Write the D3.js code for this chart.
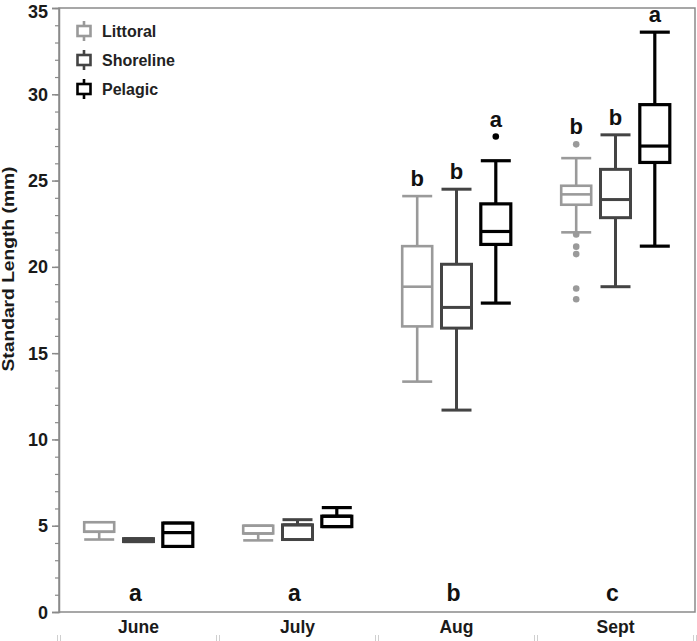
<!DOCTYPE html>
<html>
<head>
<meta charset="utf-8">
<script src="https://cdn.jsdelivr.net/npm/d3@7"></script>
<style>
  html, body { margin: 0; padding: 0; background: #fff; }
  svg { display: block; }
  text { font-family: "Liberation Sans", Arial, Helvetica, sans-serif; }
</style>
</head>
<body>
<div id="chart"></div>
<script>
// ---------------- data ----------------
const months = ["June", "July", "Aug", "Sept"];
const habitats = ["Littoral", "Shoreline", "Pelagic"];
const habitatColors = ["#9a9a9a", "#444444", "#000000"];

// [min, q1, median, q3, max] per month
const littoralStats = [
  [4.2, 4.65, 4.65, 5.2, 5.2],
  [4.15, 4.55, 4.55, 5.0, 5.0],
  [13.35, 16.55, 18.85, 21.2, 24.1],
  [22.0, 23.6, 24.2, 24.7, 26.3]
];
const shorelineStats = [
  [4.08, 4.08, 4.15, 4.25, 4.25],
  [4.2, 4.2, 5.05, 5.05, 5.35],
  [11.7, 16.45, 17.65, 20.15, 24.5],
  [18.85, 22.85, 23.9, 25.65, 27.65]
];
const pelagicStats = [
  [3.8, 3.8, 4.6, 5.15, 5.15],
  [4.95, 4.95, 5.55, 5.55, 6.05],
  [17.9, 21.3, 22.05, 23.65, 26.15],
  [21.2, 26.05, 27.0, 29.4, 33.6]
];
const littoralOutliers = [[], [], [], [27.1, 21.88, 21.17, 20.74, 18.75, 18.12]];
const shorelineOutliers = [[], [], [], []];
const pelagicOutliers = [[], [], [27.55], []];

const monthLetters = ["a", "a", "b", "c"];
const habitatLetters = [
  [null, null, null],
  [null, null, null],
  ["b", "b", "a"],
  ["b", "b", "a"]
];

const yTicksMajor = [0, 5, 10, 15, 20, 25, 30, 35];
const yLabel = "Standard Length (mm)";

// ---------------- layout ----------------
const W = 697, H = 641;
const plot = { left: 59, right: 695, top: 8, bottom: 612 };

const svg = d3.select("#chart").append("svg")
  .attr("width", W).attr("height", H);

const x = d3.scaleBand().domain(months).range([plot.left, plot.right]);
const xOff = d3.scalePoint().domain(habitats).range([-39.3, 39.3]);
const y = d3.scaleLinear().domain([0, 35]).range([plot.bottom, plot.top]);

const boxW = 30;

// frame
svg.append("rect")
  .attr("x", plot.left).attr("y", plot.top)
  .attr("width", plot.right - plot.left).attr("height", plot.bottom - plot.top)
  .attr("fill", "none").attr("stroke", "#8a8a8a").attr("stroke-width", 1.5);

// y axis with minor ticks
const yAxisMinor = d3.axisLeft(y).tickValues(d3.range(0, 36, 1)).tickSize(4).tickFormat("");
const gMinor = svg.append("g").attr("transform", `translate(${plot.left},0)`).call(yAxisMinor);
gMinor.select(".domain").remove();
gMinor.selectAll("line").attr("stroke", "#8a8a8a").attr("stroke-width", 1.2);

const yAxis = d3.axisLeft(y).tickValues(yTicksMajor).tickSize(7).tickPadding(4);
const gY = svg.append("g").attr("transform", `translate(${plot.left},0)`).call(yAxis);
gY.select(".domain").attr("stroke", "#8a8a8a").attr("stroke-width", 1.5);
gY.selectAll("line").attr("stroke", "#8a8a8a").attr("stroke-width", 1.5);
gY.selectAll("text")
  .attr("font-family", "'Liberation Sans', Arial, sans-serif")
  .attr("font-size", 18).attr("font-weight", "bold").attr("fill", "#1a1a1a")
  .attr("dy", d => d === 35 ? "0.5em" : "0.34em");

// x axis (labels only, frame provides line)
const xAxis = d3.axisBottom(x).tickSize(0).tickPadding(9);
const gX = svg.append("g").attr("transform", `translate(0,${plot.bottom})`).call(xAxis);
gX.select(".domain").remove();
gX.selectAll("text")
  .attr("font-family", "'Liberation Sans', Arial, sans-serif")
  .attr("font-size", 17.5).attr("font-weight", "bold").attr("fill", "#1a1a1a");

// faint boundary marks at bottom
const bounds = months.map(m => x(m)).concat([plot.right]);
bounds.forEach(bx => {
  [-1.5, 1.5].forEach(dx => {
    svg.append("line")
      .attr("x1", bx + dx).attr("x2", bx + dx)
      .attr("y1", 635).attr("y2", 641)
      .attr("stroke", "#cfcfcf").attr("stroke-width", 1);
  });
});

// y label
svg.append("text")
  .attr("transform", `translate(14,269) rotate(-90)`)
  .attr("text-anchor", "middle")
  .attr("font-size", 17).attr("font-weight", "bold").attr("fill", "#1a1a1a")
  .attr("textLength", 205).attr("lengthAdjust", "spacingAndGlyphs")
  .text(yLabel);

// ---------------- boxes ----------------
const allStats = [littoralStats, shorelineStats, pelagicStats];
const allOutliers = [littoralOutliers, shorelineOutliers, pelagicOutliers];
const strokeW = [2.6, 3, 3.2];

const boxes = [];
months.forEach((m, mi) => {
  habitats.forEach((h, hi) => {
    const s = allStats[hi][mi];
    boxes.push({ month: m, mi, habitat: h, hi, min: s[0], q1: s[1], med: s[2], q3: s[3], max: s[4],
      outliers: allOutliers[hi][mi], letter: habitatLetters[mi][hi] });
  });
});

const g = svg.append("g");
boxes.forEach(b => {
  const cx = x(b.month) + x.bandwidth() / 2 + xOff(b.habitat);
  const col = habitatColors[b.hi];
  const sw = strokeW[b.hi];
  const bg = g.append("g").attr("stroke", col).attr("stroke-width", sw).attr("fill", "none");
  bg.append("line").attr("x1", cx).attr("x2", cx).attr("y1", y(b.max)).attr("y2", y(b.q3));
  bg.append("line").attr("x1", cx).attr("x2", cx).attr("y1", y(b.q1)).attr("y2", y(b.min));
  bg.append("line").attr("x1", cx - boxW / 2).attr("x2", cx + boxW / 2).attr("y1", y(b.max)).attr("y2", y(b.max));
  bg.append("line").attr("x1", cx - boxW / 2).attr("x2", cx + boxW / 2).attr("y1", y(b.min)).attr("y2", y(b.min));
  bg.append("rect")
    .attr("x", cx - boxW / 2).attr("y", y(b.q3))
    .attr("width", boxW).attr("height", Math.max(0.5, y(b.q1) - y(b.q3)))
    .attr("fill", "#fff");
  bg.append("line").attr("x1", cx - boxW / 2).attr("x2", cx + boxW / 2).attr("y1", y(b.med)).attr("y2", y(b.med));
  b.outliers.forEach(o => {
    g.append("circle").attr("cx", cx).attr("cy", y(o)).attr("r", 3.3).attr("fill", col);
  });
  if (b.letter) {
    const top = d3.max([b.max].concat(b.outliers));
    g.append("text")
      .attr("x", cx).attr("y", y(top) - 10)
      .attr("text-anchor", "middle")
      .attr("font-family", "'Liberation Sans Narrow', 'Liberation Sans', Arial, sans-serif")
      .attr("font-size", 22).attr("font-weight", "bold").attr("fill", "#111")
      .text(b.letter);
  }
});

// month letters at bottom
months.forEach((m, mi) => {
  svg.append("text")
    .attr("x", x(m) + x.bandwidth() / 2 - 3).attr("y", 601)
    .attr("text-anchor", "middle")
    .attr("font-family", "'Liberation Sans Narrow', 'Liberation Sans', Arial, sans-serif")
    .attr("font-size", 23).attr("font-weight", "bold").attr("fill", "#111")
    .text(monthLetters[mi]);
});

// ---------------- legend ----------------
const legendY = [31, 60, 89];
habitats.forEach((h, hi) => {
  const lx = 84, ly = legendY[hi];
  const col = habitatColors[hi];
  const lg = svg.append("g").attr("stroke", col).attr("stroke-width", 2.6).attr("fill", "#fff");
  lg.append("line").attr("x1", lx).attr("x2", lx).attr("y1", ly - 10).attr("y2", ly + 10);
  lg.append("rect").attr("x", lx - 6.5).attr("y", ly - 5).attr("width", 13).attr("height", 10);
  svg.append("text")
    .attr("x", 102).attr("y", ly + 6)
    .attr("font-size", 16).attr("font-weight", "bold").attr("fill", "#222")
    .text(h);
});
</script>
</body>
</html>
